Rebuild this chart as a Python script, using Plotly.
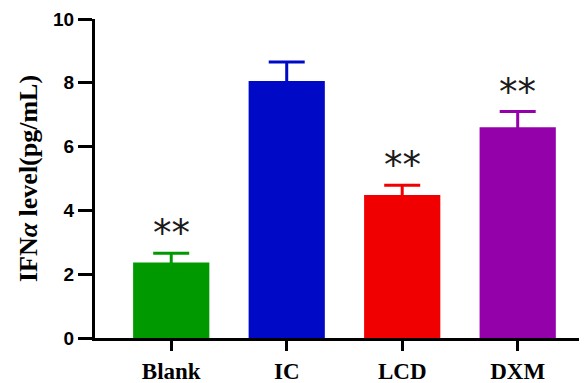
import plotly.graph_objects as go

categories = ["Blank", "IC", "LCD", "DXM"]
means = [2.37, 8.06, 4.48, 6.61]
sems = [0.29, 0.59, 0.31, 0.49]
colors = ["rgb(0,153,0)", "rgb(0,10,198)", "rgb(240,0,0)", "rgb(148,0,170)"]
signif = ["**", "", "**", "**"]
y_ticks = [0, 2, 4, 6, 8, 10]

fig = go.Figure()
for c, m, s, col in zip(categories, means, sems, colors):
    fig.add_trace(go.Bar(
        x=[c], y=[m], width=0.66,
        marker=dict(color=col, line=dict(width=0)),
        error_y=dict(type="data", symmetric=True, array=[s],
                     color=col, thickness=3, width=18),
        showlegend=False,
    ))

for c, m, s, t in zip(categories, means, sems, signif):
    if t:
        fig.add_annotation(x=c, y=m + s, text=t, showarrow=False,
                           yanchor="bottom", yshift=-4,
                           font=dict(family="DejaVu Sans", size=37, color="#1a1a1a"))

# page body has an 8px default margin, so the figure is sized to fit the window
fig.update_layout(
    width=579, height=375,
    margin=dict(l=87, r=0, t=11, b=45),
    paper_bgcolor="white", plot_bgcolor="white",
    barmode="overlay",
    xaxis=dict(
        range=[-0.66, 3.6], showline=True, linecolor="black", linewidth=3,
        ticks="outside", ticklen=10, tickwidth=3, tickcolor="black",
        showgrid=False, zeroline=False, automargin=False,
        tickfont=dict(family="Liberation Serif", size=23, color="black"),
        tickvals=categories, ticktext=["<b>%s</b>" % c for c in categories],
    ),
    yaxis=dict(
        range=[0, 10], showline=True, linecolor="black", linewidth=3,
        ticks="outside", ticklen=14, tickwidth=3, tickcolor="black",
        showgrid=False, zeroline=False, automargin=False,
        tickvals=y_ticks, ticktext=["<b>%d</b>" % v for v in y_ticks],
        tickfont=dict(family="Liberation Sans", size=19, color="black"),
        title=dict(text="<b>IFN<i>α</i> level(pg/mL)</b>", standoff=8,
                   font=dict(family="Liberation Serif", size=26, color="black")),
    ),
)

fig.write_html("out.html")
